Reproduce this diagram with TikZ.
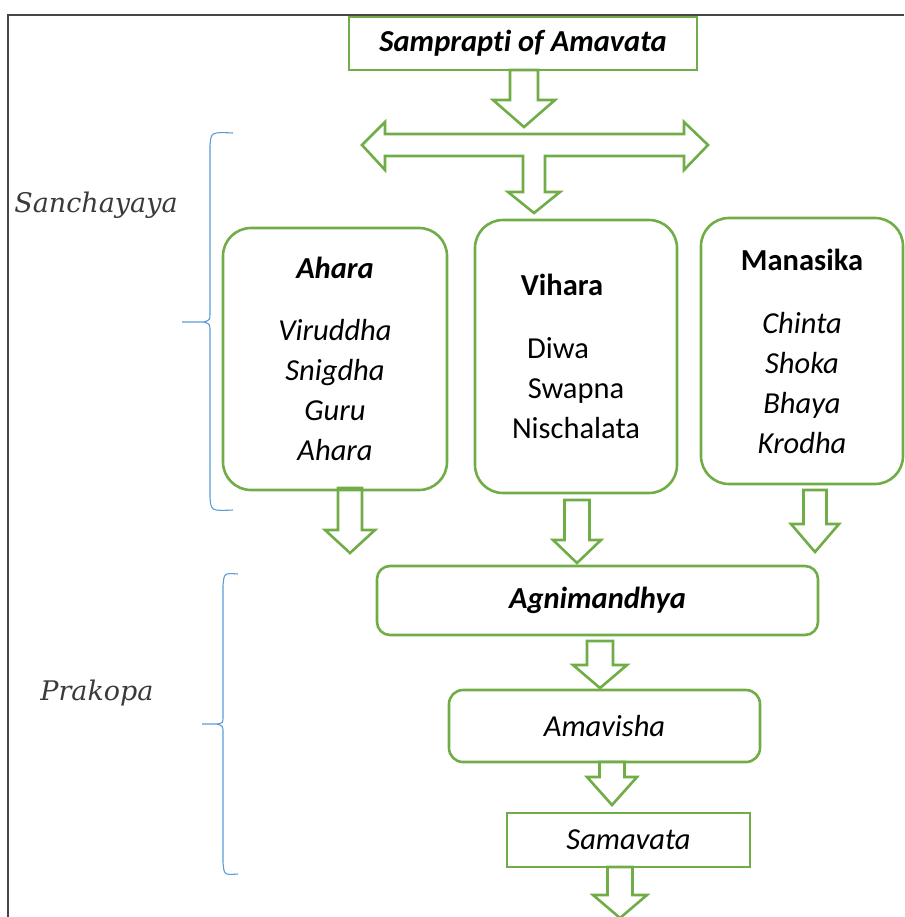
\documentclass[tikz,border=0pt]{standalone}
\usepackage{fontspec}
\setmainfont{Carlito}[Ligatures=NoCommon]
\newfontfamily\labelfont{DejaVu Serif}
\usepackage{tikz}

\definecolor{boxgreen}{HTML}{70AD47}
\definecolor{bracblue}{HTML}{5B9BD5}
\definecolor{framegray}{HTML}{454545}
\definecolor{labelgray}{HTML}{3A3A3A}

% hollow block arrow pointing down: centre x, top, head base, tip, half shaft, half head
\newcommand{\blockdown}[6]{%
  \draw[arrowline] ({#1-#5},#2) -- ({#1+#5},#2) -- ({#1+#5},#3) -- ({#1+#6},#3)
    -- (#1,#4) -- ({#1-#6},#3) -- ({#1-#5},#3) -- cycle;}

\begin{document}
\begin{tikzpicture}[x=1pt,y=-1pt,
    arrowline/.style={draw=boxgreen,line width=2.6pt,fill=white,line join=miter},
    roundbox/.style={draw=boxgreen,line width=2.6pt,rounded corners=28pt,align=center,
      font=\fontsize{30.5}{40}\selectfont},
    flatbox/.style={draw=boxgreen,line width=2.6pt,align=center,font=\fontsize{30.5}{40}\selectfont},
    bracket/.style={draw=bracblue,line width=1.1pt},
    sidelabel/.style={text=labelgray,font=\labelfont\itshape\fontsize{27}{30}\selectfont}]

        \useasboundingbox (0,0) rectangle (904,917);

        % Frame (top and left edges)
        \draw[framegray,line width=1.4pt] (8,917) -- (8,15) -- (904,15);

        % Title
        \node[flatbox,minimum width=348pt,minimum height=53pt] (title) at (523,43.5)
            {\textbf{\textit{Samprapti of Amavata}}};

        % Title arrow and the T-shaped split arrow
        \blockdown{524}{70}{100}{127}{14}{31}
        \draw[arrowline] (362,145) -- (385,122) -- (385,134) -- (684,134) -- (684,122)
            -- (708,145) -- (684,170) -- (684,156) -- (545,156) -- (545,192) -- (560,192)
            -- (534,213) -- (508,192) -- (523,192) -- (523,156) -- (385,156) -- (385,170) -- cycle;

        % Sanchayaya bracket
        \node[sidelabel] (sanch) at (96,205) {Sanchayaya};
        \draw[bracket] (233,133) .. controls (211,132) .. (210,146) -- (210,312)
            .. controls (210,320) .. (204,322) -- (182,322);
        \draw[bracket] (204,322) .. controls (210,324) .. (210,332) -- (210,497)
            .. controls (211,511) .. (233,510);

        % Arrows out of the three boxes
        \blockdown{350}{488}{530}{553}{12}{25}
        \blockdown{577}{500}{540}{563}{12.5}{24}
        \blockdown{815}{490}{524}{552}{11.5}{24}

        % Three cause boxes
        \node[roundbox,minimum width=224pt,minimum height=262pt] (ahara) at (335,359)
            {\textbf{\textit{Ahara}}\\[22pt] \textit{Viruddha}\\ \textit{Snigdha}\\ \textit{Guru}\\ \textit{Ahara}};
        \node[roundbox,minimum width=202pt,minimum height=273pt] (vihara) at (576,356.5)
            {\textbf{Vihara}\rule{28pt}{0pt}\\[23pt] Diwa\rule{36pt}{0pt}\\ Swapna\\ Nischalata};
        \node[roundbox,minimum width=202pt,minimum height=266pt] (manasika) at (802,351)
            {\textbf{Manasika}\\[23pt] \textit{Chinta}\\ \textit{Shoka}\\ \textit{Bhaya}\\ \textit{Krodha}};

        % Prakopa bracket
        \node[sidelabel] (prak) at (97,693) {Prakopa};
        \draw[bracket] (238,574) .. controls (224,573) .. (223,586) -- (223,716)
            .. controls (223,723) .. (217,724) -- (202,724);
        \draw[bracket] (217,724) .. controls (223,726) .. (223,733) -- (223,862)
            .. controls (224,875) .. (238,874);

        % Lower chain
        \node[roundbox,rounded corners=13pt,minimum width=441pt,minimum height=69pt] (agni) at (597.5,600.5)
            {\textbf{\textit{Agnimandhya}}};
        \blockdown{600}{641}{665}{688}{13}{27}
        \node[roundbox,rounded corners=14pt,minimum width=311pt,minimum height=72pt] (amavisha) at (604.5,726)
            {\textit{Amavisha}};
        \blockdown{612}{762}{777}{805}{12.5}{25}
        \node[flatbox,minimum width=243pt,minimum height=54pt] (samavata) at (628.5,840)
            {\textit{Samavata}};
        \blockdown{620}{867}{895}{918}{12.5}{27}

    \end{tikzpicture}
\end{document}
